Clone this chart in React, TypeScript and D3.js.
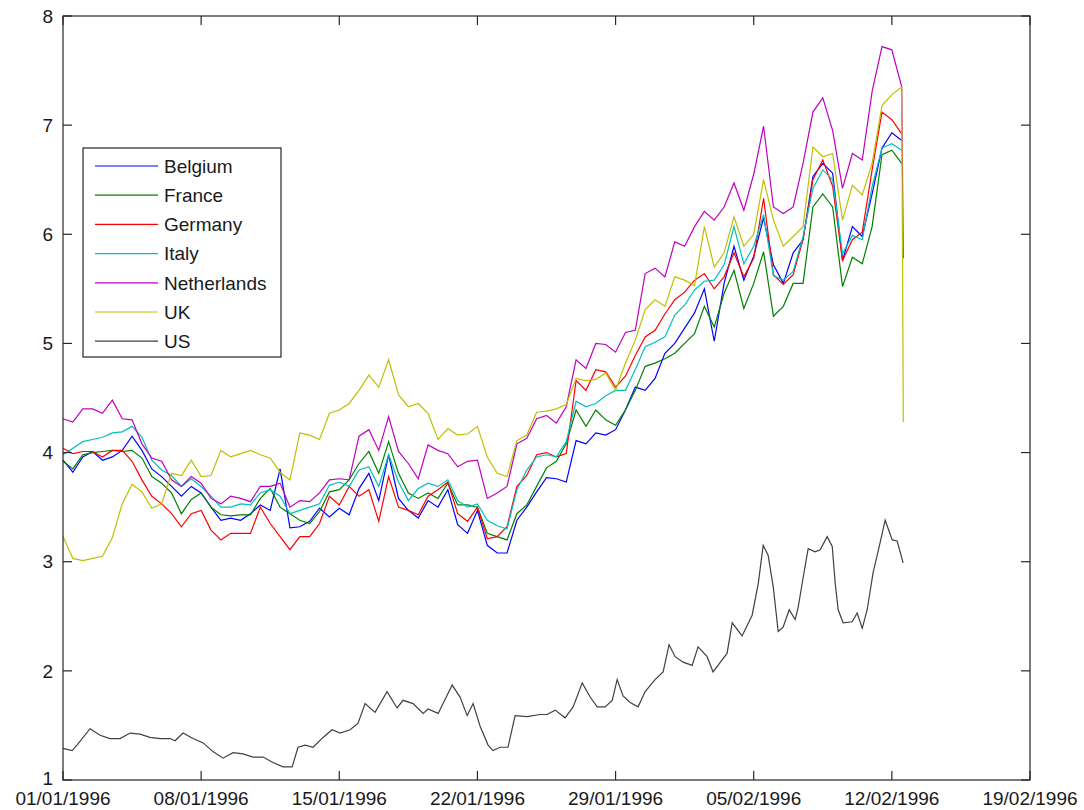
import React from 'react'
import * as d3 from 'd3'

// rates, sampled every half day from 01/01/1996
const START = new Date(1996, 0, 1)
const halfDays = d3.range(0, 43, 0.5)
const dropDay = 42.58
const gridDays = [...halfDays, dropDay]

const belgium = [
  3.93, 3.82, 3.96, 4.01, 3.93, 3.96, 4.02, 4.15, 4.02, 3.85, 3.78, 3.69, 3.6, 3.69, 3.63, 3.5, 3.38, 3.4, 3.38, 3.44, 3.52, 3.47, 3.85, 3.31, 3.32, 3.37,
  3.49, 3.41, 3.49, 3.43, 3.67, 3.81, 3.56, 3.98, 3.58, 3.47, 3.4, 3.56, 3.5, 3.66, 3.34, 3.26, 3.47, 3.15, 3.08, 3.08, 3.38, 3.5, 3.64, 3.77,
  3.76, 3.73, 4.11, 4.08, 4.18, 4.16, 4.21, 4.39, 4.6, 4.57, 4.68, 4.91, 5.0, 5.14, 5.28, 5.5, 5.02, 5.55, 5.89, 5.58, 5.8, 6.15, 5.72, 5.55,
  5.83, 5.95, 6.53, 6.65, 6.56, 5.76, 6.07, 5.98, 6.37, 6.79, 6.93, 6.86,
]
const france = [
  3.92, 3.85, 3.98, 4.0, 4.01, 4.02, 4.01, 4.02, 3.95, 3.78, 3.72, 3.63, 3.44, 3.57, 3.63, 3.5, 3.43, 3.42, 3.43, 3.43, 3.58, 3.67, 3.5, 3.44, 3.38, 3.35,
  3.46, 3.64, 3.66, 3.75, 3.9, 4.01, 3.81, 4.1, 3.81, 3.63, 3.58, 3.63, 3.58, 3.72, 3.52, 3.52, 3.5, 3.26, 3.23, 3.2, 3.44, 3.52, 3.69, 3.86,
  3.92, 4.08, 4.39, 4.24, 4.39, 4.3, 4.25, 4.39, 4.57, 4.79, 4.82, 4.86, 4.91, 5.0, 5.09, 5.34, 5.15, 5.46, 5.67, 5.32, 5.55, 5.84, 5.25, 5.34,
  5.55, 5.55, 6.25, 6.37, 6.25, 5.52, 5.79, 5.73, 6.07, 6.73, 6.77, 6.65,
]
const germany = [
  4.04, 3.99, 4.01, 4.01, 3.96, 4.02, 4.02, 3.92, 3.75, 3.6, 3.53, 3.44, 3.32, 3.44, 3.47, 3.29, 3.2, 3.26, 3.26, 3.26, 3.5, 3.35, 3.23, 3.11, 3.23, 3.23,
  3.35, 3.6, 3.52, 3.69, 3.6, 3.66, 3.37, 3.78, 3.5, 3.47, 3.43, 3.6, 3.66, 3.73, 3.44, 3.37, 3.5, 3.21, 3.23, 3.32, 3.69, 3.79, 3.98, 4.0,
  3.96, 3.99, 4.66, 4.57, 4.76, 4.74, 4.6, 4.7, 4.89, 5.06, 5.12, 5.27, 5.4, 5.47, 5.58, 5.64, 5.5, 5.61, 5.83, 5.61, 5.78, 6.33, 5.63, 5.54,
  5.63, 5.95, 6.5, 6.68, 6.44, 5.76, 5.95, 6.02, 6.59, 7.12, 7.05, 6.92,
]
const italy = [
  3.98, 4.04, 4.1, 4.12, 4.14, 4.18, 4.19, 4.24, 4.14, 3.93, 3.84, 3.79, 3.69, 3.76, 3.69, 3.6, 3.5, 3.5, 3.53, 3.52, 3.63, 3.66, 3.6, 3.44, 3.47, 3.5,
  3.53, 3.7, 3.73, 3.69, 3.84, 3.87, 3.69, 3.98, 3.73, 3.56, 3.67, 3.72, 3.69, 3.75, 3.56, 3.5, 3.53, 3.38, 3.33, 3.3, 3.66, 3.84, 3.96, 3.98,
  3.96, 4.1, 4.47, 4.42, 4.45, 4.52, 4.57, 4.57, 4.76, 4.97, 5.01, 5.06, 5.26, 5.35, 5.49, 5.57, 5.58, 5.72, 6.07, 5.73, 5.89, 6.18, 5.62, 5.58,
  5.66, 5.98, 6.42, 6.59, 6.5, 5.82, 5.99, 5.95, 6.44, 6.79, 6.83, 6.77,
]
const netherlands = [
  4.31, 4.28, 4.4, 4.4, 4.36, 4.48, 4.31, 4.3, 4.08, 3.95, 3.92, 3.75, 3.69, 3.78, 3.72, 3.58, 3.53, 3.6, 3.58, 3.55, 3.69, 3.69, 3.72, 3.5, 3.56, 3.55,
  3.63, 3.75, 3.76, 3.75, 4.15, 4.21, 4.02, 4.33, 4.01, 3.9, 3.76, 4.07, 4.02, 3.99, 3.87, 3.92, 3.93, 3.58, 3.63, 3.69, 4.08, 4.13, 4.31, 4.34,
  4.27, 4.42, 4.85, 4.77, 5.0, 4.99, 4.92, 5.1, 5.12, 5.64, 5.69, 5.61, 5.93, 5.89, 6.07, 6.21, 6.13, 6.25, 6.47, 6.22, 6.55, 6.99, 6.25, 6.19,
  6.25, 6.65, 7.12, 7.25, 6.95, 6.42, 6.74, 6.68, 7.31, 7.72, 7.69, 7.35, 5.78,
]
const uk = [
  3.23, 3.03, 3.01, 3.03, 3.05, 3.22, 3.53, 3.71, 3.64, 3.49, 3.53, 3.81, 3.79, 3.93, 3.78, 3.79, 4.02, 3.96, 3.99, 4.02, 3.98, 3.95, 3.82, 3.75, 4.18, 4.16,
  4.12, 4.36, 4.39, 4.45, 4.57, 4.71, 4.6, 4.85, 4.53, 4.42, 4.45, 4.36, 4.12, 4.22, 4.16, 4.17, 4.24, 3.96, 3.81, 3.78, 4.11, 4.16, 4.37, 4.38,
  4.4, 4.44, 4.68, 4.66, 4.67, 4.73, 4.57, 4.82, 5.03, 5.31, 5.4, 5.34, 5.61, 5.58, 5.53, 6.07, 5.7, 5.83, 6.16, 5.89, 6.0, 6.5, 6.13, 5.89,
  5.98, 6.07, 6.8, 6.71, 6.74, 6.13, 6.45, 6.36, 6.65, 7.18, 7.28, 7.35, 4.28,
]

// US is read at its own turning points (days since 01/01/1996)
const usDays = [
  0, 0.46, 0.71, 1.37, 1.88, 2.38, 2.89, 3.4, 3.9, 4.41, 4.92, 5.42, 5.68, 6.08, 6.59, 7.1, 7.6, 8.11, 8.62, 9.12, 9.63, 10.14, 10.64, 11.15,
  11.61, 11.91, 12.27, 12.67, 13.18, 13.63, 14.04, 14.55, 14.95, 15.31, 15.81, 16.42, 16.93, 17.23, 17.74, 18.25, 18.5, 19.01, 19.72, 20.12,
  20.48, 20.78, 21.14, 21.54, 21.79, 22.15, 22.55, 22.91, 23.52, 24.18, 24.53, 24.94, 25.44, 25.85, 26.31, 26.71, 27.07, 27.47, 27.83, 28.08,
  28.38, 28.74, 29.14, 29.5, 30.0, 30.41, 30.71, 31.02, 31.42, 31.88, 32.18, 32.64, 32.94, 33.4, 33.65, 33.91, 34.41, 34.92, 35.23, 35.48,
  35.73, 35.99, 36.24, 36.49, 36.8, 37.1, 37.25, 37.51, 37.76, 38.11, 38.37, 38.72, 38.98, 39.13, 39.28, 39.53, 39.99, 40.24, 40.5, 40.75,
  41.05, 41.41, 41.66, 42.02, 42.27, 42.57,
]
const usRates = [
  1.29, 1.27, 1.32, 1.47, 1.41, 1.38, 1.38, 1.43, 1.42, 1.39, 1.38, 1.38, 1.36, 1.43, 1.38, 1.34, 1.26, 1.2, 1.25, 1.24, 1.21, 1.21, 1.16, 1.12,
  1.12, 1.3, 1.32, 1.3, 1.39, 1.46, 1.43, 1.46, 1.52, 1.7, 1.62, 1.81, 1.66, 1.73, 1.7, 1.61, 1.65, 1.61, 1.87, 1.76,
  1.59, 1.7, 1.49, 1.32, 1.27, 1.3, 1.3, 1.59, 1.58, 1.6, 1.6, 1.64, 1.57, 1.67, 1.89, 1.76, 1.67, 1.67, 1.73, 1.92,
  1.77, 1.71, 1.67, 1.81, 1.92, 1.99, 2.24, 2.13, 2.08, 2.05, 2.22, 2.13, 1.99, 2.1, 2.16, 2.44, 2.32, 2.51, 2.8, 3.15,
  3.06, 2.77, 2.36, 2.4, 2.56, 2.47, 2.58, 2.86, 3.12, 3.09, 3.11, 3.23, 3.14, 2.8, 2.56, 2.44, 2.45, 2.53, 2.39, 2.56,
  2.9, 3.18, 3.38, 3.2, 3.19, 2.99,
]

const countries = ['Belgium', 'France', 'Germany', 'Italy', 'Netherlands', 'UK', 'US']
const colors = ['#0000ff', '#008000', '#ff0000', '#00bfbf', '#bf00bf', '#bfbf00', '#404040']
const yTicks = [1, 2, 3, 4, 5, 6, 7, 8]

const W = 1084
const H = 810
const margin = { top: 16, right: 54, bottom: 30, left: 63 }
const FONT = '"Liberation Sans", Arial, sans-serif'

const toDate = (d: number) => new Date(START.getTime() + d * 864e5)

const App = () => {
  const x = d3.scaleTime()
    .domain([START, new Date(1996, 1, 19)])
    .range([margin.left, W - margin.right])
  const y = d3.scaleLinear()
    .domain([1, 8])
    .range([H - margin.bottom, margin.top])

  const euro = [belgium, france, germany, italy, netherlands, uk]
  const series: [number, number][][] = euro.map(vals => vals.map((v, i) => [gridDays[i], v] as [number, number]))
  series.push(usDays.map((d, i) => [d, usRates[i]] as [number, number]))

  const line = d3.line<[number, number]>()
    .x(d => x(toDate(d[0])))
    .y(d => y(d[1]))

  const xTicks = x.ticks(d3.timeMonday.every(1)!)
  const fmt = d3.timeFormat('%d/%m/%Y')
  const tick = 9
  const x0 = margin.left
  const x1 = W - margin.right
  const y0 = H - margin.bottom
  const y1 = margin.top

  const leg = { x: 83, y: 148, w: 198, h: 209, row: 29.2 }

  return (
    <svg width={W} height={H} style={{ position: 'absolute', left: 0, top: 0, background: '#fff' }}
      fontFamily={FONT} fontSize={19}>
      {series.map((s, i) => (
        <path key={countries[i]} d={line(s) || ''} fill="none" stroke={colors[i]} strokeWidth={1.2} />
      ))}

      <rect x={x0} y={y1} width={x1 - x0} height={y0 - y1} fill="none" stroke="#262626" strokeWidth={1.2} />

      {xTicks.map(t => (
        <g key={t.getTime()}>
          <line x1={x(t)} x2={x(t)} y1={y0} y2={y0 - tick} stroke="#262626" strokeWidth={1.2} />
          <line x1={x(t)} x2={x(t)} y1={y1} y2={y1 + tick} stroke="#262626" strokeWidth={1.2} />
          <text x={x(t)} y={y0 + 25} textAnchor="middle" fill="#1a1a1a">{fmt(t)}</text>
        </g>
      ))}

      {yTicks.map(v => (
        <g key={v}>
          <line x1={x0} x2={x0 + tick} y1={y(v)} y2={y(v)} stroke="#262626" strokeWidth={1.2} />
          <line x1={x1} x2={x1 - tick} y1={y(v)} y2={y(v)} stroke="#262626" strokeWidth={1.2} />
          <text x={x0 - 10} y={y(v) - (v === 1 ? 2 : 0)} dy="0.35em" textAnchor="end" fill="#1a1a1a">{v}</text>
        </g>
      ))}

      <rect x={leg.x} y={leg.y} width={leg.w} height={leg.h} fill="#fff" stroke="#262626" strokeWidth={1.2} />
      {countries.map((c, i) => {
        const ly = leg.y + 18 + i * leg.row
        return (
          <g key={c}>
            <line x1={leg.x + 12} x2={leg.x + 75} y1={ly} y2={ly} stroke={colors[i]} strokeWidth={1.2} />
            <text x={leg.x + 81} y={ly} dy="0.36em" fill="#1a1a1a">{c}</text>
          </g>
        )
      })}
    </svg>
  )
}

export default App
